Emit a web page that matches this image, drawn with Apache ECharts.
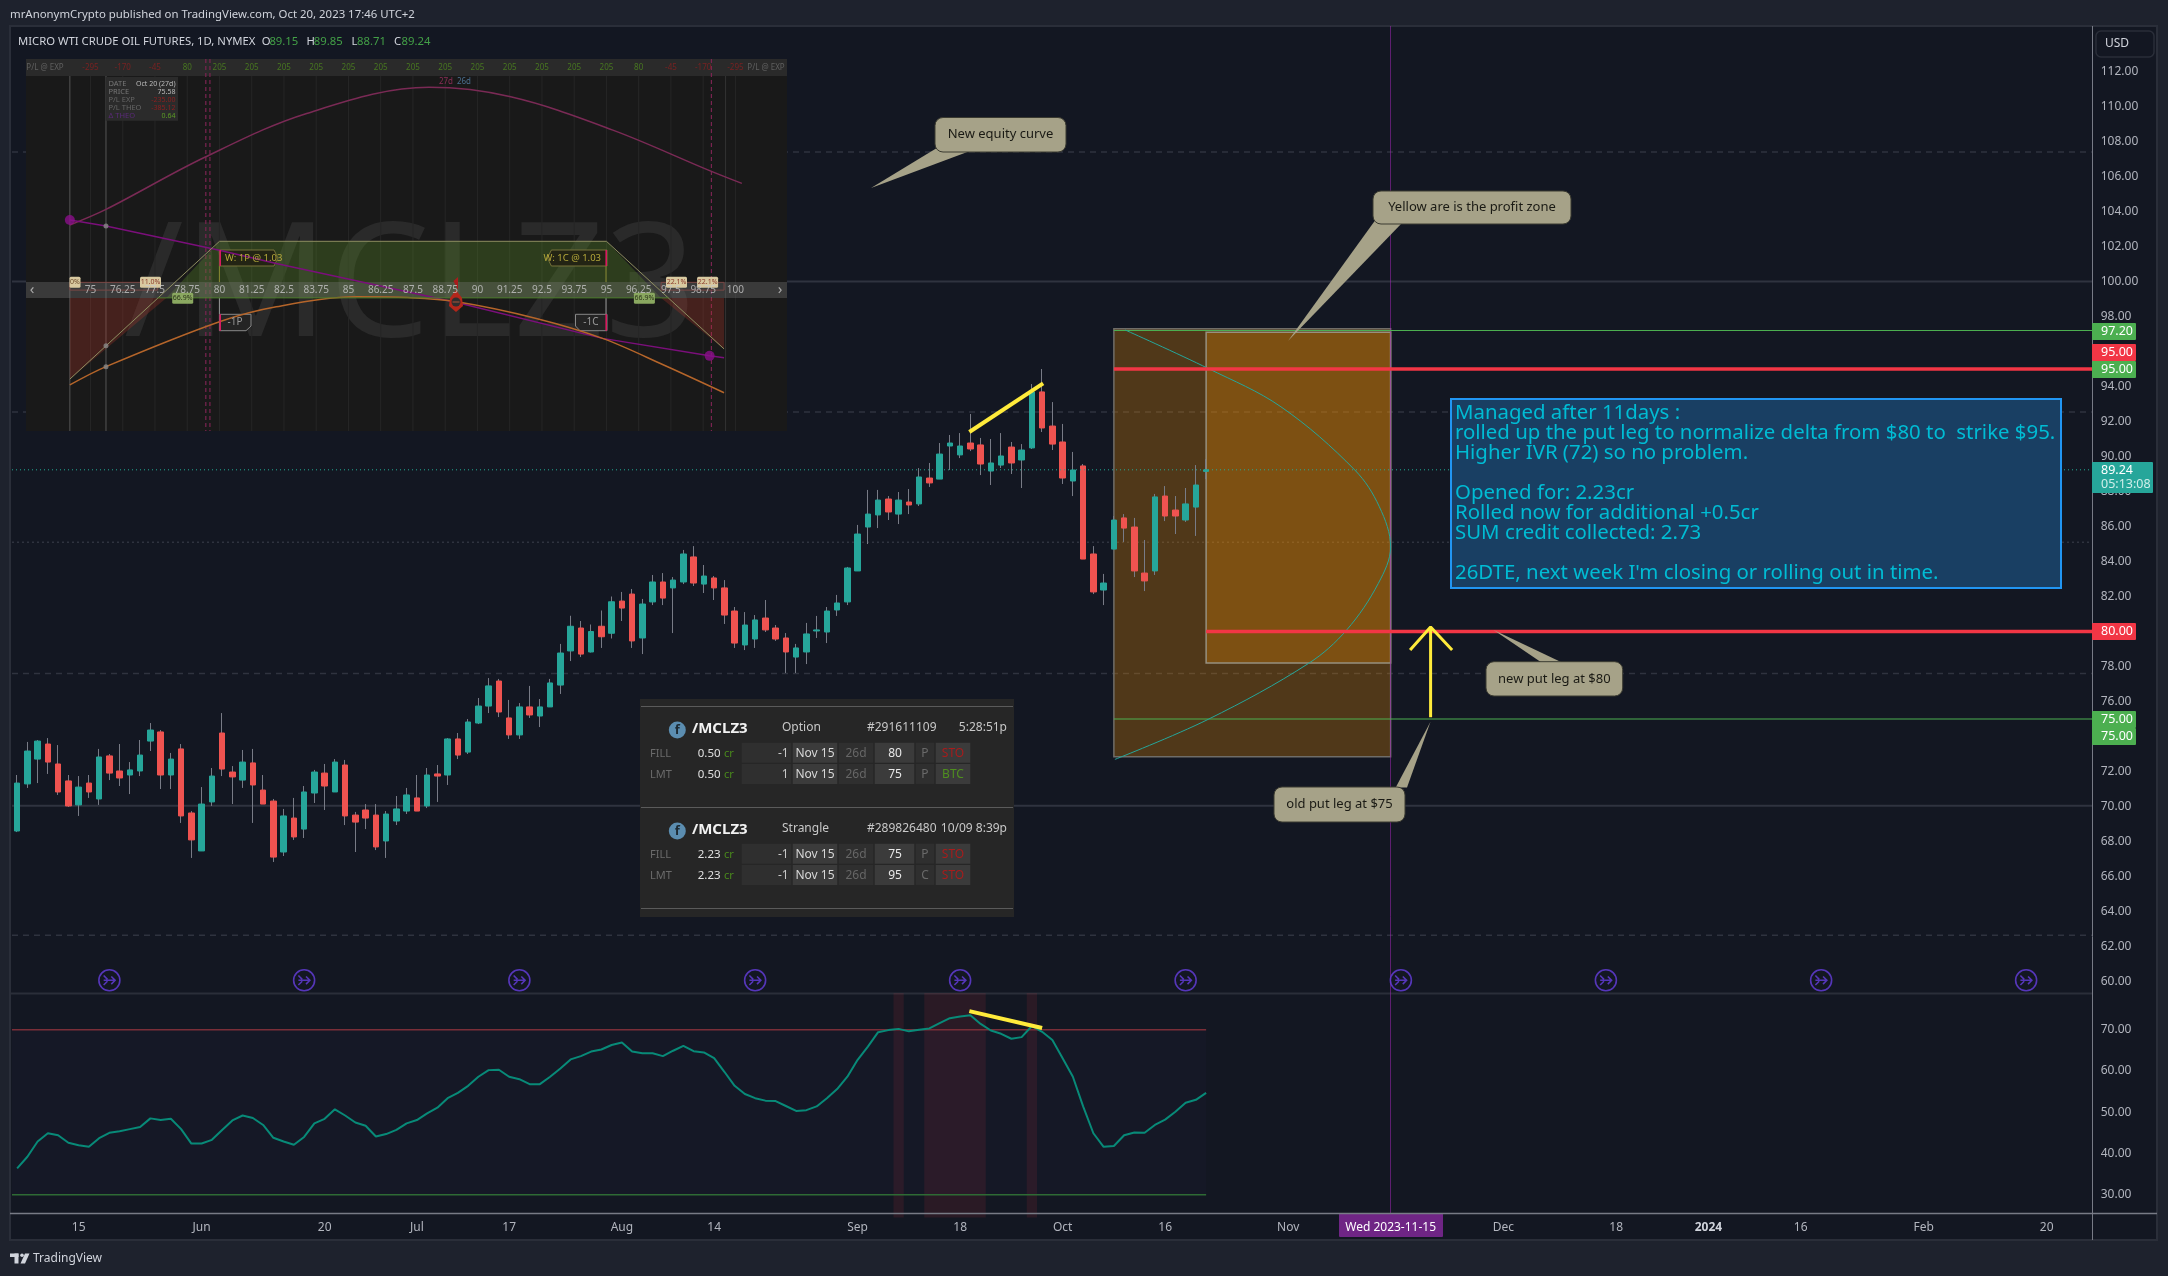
<!DOCTYPE html>
<html><head><meta charset="utf-8">
<style>html,body{margin:0;padding:0;background:#1e222d}#c{width:2168px;height:1276px}</style>
<script src="https://cdn.jsdelivr.net/npm/echarts@6/dist/echarts.min.js"></script>
</head><body><div id="c"></div>
<script>
// ---------- candles ----------
const opens=[68.60,71.29,72.71,73.57,72.43,71.46,70.09,71.34,70.43,72.89,72.03,71.80,72.03,73.74,74.26,71.80,73.29,69.63,67.46,70.26,74.20,71.97,71.51,72.49,70.94,70.31,67.40,69.34,68.71,70.77,71.91,70.83,72.37,69.51,69.80,69.51,68.03,69.17,69.74,70.49,70.03,71.86,71.80,73.86,73.11,74.77,75.74,77.17,75.06,74.09,75.69,75.17,75.69,76.94,78.89,80.20,78.83,80.30,79.90,81.74,82.14,79.63,81.69,82.83,82.49,82.83,84.26,82.71,83.06,82.49,81.17,79.23,79.57,80.77,80.20,79.63,78.54,78.83,80.03,79.97,81.23,81.69,83.46,85.97,86.66,87.57,86.71,87.40,87.29,88.77,88.71,90.60,90.09,90.77,90.66,89.17,89.51,90.54,89.80,90.49,93.69,91.74,90.83,88.60,89.46,84.43,82.37,84.71,86.49,85.97,83.34,83.46,87.74,86.94,86.37,87.11,89.15];
const highs=[71.80,73.69,73.80,73.91,73.51,71.80,71.74,71.80,73.29,73.00,73.57,72.54,73.80,74.77,74.37,73.06,73.57,69.74,71.11,72.20,75.34,72.31,73.23,73.29,71.80,70.43,69.86,70.49,71.17,72.09,72.43,72.71,72.66,69.69,70.14,70.14,69.74,70.60,71.06,71.80,72.20,72.37,73.91,74.20,75.00,76.20,77.34,77.29,76.09,75.91,76.89,76.14,77.29,79.29,80.90,80.60,80.40,81.20,82.00,82.26,82.43,81.86,83.23,83.34,83.11,84.66,84.88,83.80,83.17,82.94,81.40,81.11,80.94,81.80,80.37,79.91,79.29,80.49,80.89,81.40,82.09,83.69,86.09,88.09,88.09,87.74,87.97,88.14,89.34,89.63,90.77,91.23,91.34,92.43,91.06,91.00,91.34,90.83,90.71,94.14,95.00,93.11,91.86,90.26,89.57,84.88,83.29,86.60,86.71,86.49,85.23,87.86,88.31,87.74,88.20,89.51,89.85];
const lows=[68.54,71.06,71.34,71.86,70.66,69.97,69.46,70.49,70.09,71.51,71.17,70.71,71.74,73.17,71.00,71.00,69.06,67.06,67.46,70.03,71.74,70.14,71.06,69.06,70.14,66.83,67.17,68.09,68.20,70.20,69.80,70.83,68.94,67.40,68.71,67.51,67.06,68.94,69.57,69.74,69.91,70.26,71.23,72.71,73.00,74.71,75.34,75.11,73.86,73.86,75.06,74.54,75.69,76.43,78.31,78.54,78.80,79.06,79.60,80.60,79.06,78.71,81.51,81.51,79.91,82.71,82.60,82.20,81.80,80.43,79.06,78.94,79.06,79.97,79.46,77.63,77.63,78.14,79.63,79.34,80.89,81.51,83.46,85.00,85.91,86.37,86.14,86.71,87.17,88.26,88.71,89.23,89.91,90.31,88.94,88.37,89.34,89.00,88.20,90.43,91.40,90.37,88.43,87.74,84.14,82.14,81.51,84.71,85.11,83.11,82.31,83.23,86.31,85.57,86.26,85.46,88.71];
const closes=[71.34,73.17,73.74,72.54,70.83,70.03,71.11,70.83,72.83,71.91,71.63,72.09,72.94,74.37,71.80,72.71,69.46,68.09,70.14,71.74,72.14,71.69,72.54,71.23,70.14,67.11,69.46,68.26,70.83,71.97,71.17,72.54,69.46,69.11,69.34,67.69,69.57,69.86,70.66,69.74,71.80,71.74,73.86,72.94,74.83,75.74,76.89,75.40,74.09,75.69,75.23,75.69,77.06,78.77,80.30,78.71,80.00,79.70,81.70,81.34,79.46,81.57,82.83,81.91,82.94,84.43,82.77,83.17,82.49,80.94,79.34,80.37,80.66,80.09,79.57,78.83,79.06,79.86,80.09,81.17,81.63,83.63,85.57,86.71,87.51,86.83,87.51,87.23,88.83,88.49,90.14,90.77,90.60,90.43,89.57,89.63,90.03,89.63,90.37,93.69,91.63,90.71,88.77,89.23,84.14,82.26,82.77,86.37,85.91,83.46,82.89,87.69,86.60,86.60,87.29,88.37,89.24];
// ---------- RSI ----------
const rsiValues=[36.4,39.2,42.9,44.9,44.4,42.6,42.0,41.6,43.7,45.0,45.4,45.9,46.4,48.5,48.1,48.4,45.9,42.4,42.4,43.3,45.7,48.0,49.2,48.6,46.9,43.8,42.9,42.1,44.0,47.3,48.4,50.7,49.2,47.5,46.7,44.1,44.7,45.7,47.3,48.1,49.7,51.1,53.4,54.7,56.4,58.6,60.2,60.3,58.6,58.0,56.8,56.8,58.6,60.6,62.8,63.6,64.7,65.2,66.3,66.9,64.7,64.3,64.3,63.6,64.9,66.1,64.8,64.5,63.1,59.8,56.4,54.4,53.4,52.8,52.7,51.5,50.3,50.5,51.4,53.4,55.6,58.6,62.7,65.9,69.4,69.9,70.2,69.6,70.0,70.3,71.6,72.8,73.2,73.5,71.4,69.8,69.0,67.8,68.2,70.9,69.5,67.5,63.1,58.6,51.4,44.9,41.6,41.8,44.4,45.1,45.0,46.9,48.2,50.1,52.3,53.0,54.7];
const rsiLevels=[70,30];
const rsiBands=[[85.5,86.5],[88.5,94.5],[98.5,99.5]];
const rsiTrend=[[92.9,74.5],[100.0,70.4]];
// ---------- time axis ----------
const slotCount=203;
const tickIndex=[6,18,30,39,48,59,68,82,92,102,112,124,134,145,156,165,174,186,198];
const tickText=['15','Jun','20','Jul','17','Aug','14','Sep','18','Oct','16','Nov','Wed 2023-11-15','Dec','18','2024','16','Feb','20'];
// ---------- price overlays ----------
const gridLevels=[107.4,100,92.55,85.1,77.6,70.05,62.65];
const lastPrice=89.24;
const shortStrikes=[[107,95],[116,80]];
const greenLevels=[[107,97.2],[107,75]];
const outerBox=[107,97.3,134,72.85];
const innerBox=[116,97.1,134,78.2];
const arcPoints=[[107.1,72.69],[116.2,74.98],[126,78.18],[129.7,80.08],[132.8,82.75],[134,84.84],[132.9,87.13],[130.5,89.23],[123.3,92.84],[116.2,95.03],[108.1,97.23]];
const priceTrend=[[92.9,91.4],[100.1,94.18]];
const arrowShaft=[[137.9,75.1],[137.9,80.26]];
const arrowHead=[[135.9,78.94],[137.9,80.26],[140,78.94]];
const eventBars=[9,28,49,72,92,114,135,155,176,196];
const eventPrice=60.07;
// ---------- inset P/L screenshot ----------
const strikes=['75','76.25','77.5','78.75','80','81.25','82.5','83.75','85','86.25','87.5','88.75','90','91.25','92.5','93.75','95','96.25','97.5','98.75','100'];
const pnlHeader=['-295','-170','-45','80','205','205','205','205','205','205','205','205','205','205','205','205','205','80','-45','-170','-295'];
const pnlExpiry=[[74.2,-293],[80,204],[95,204],[99.56,-184]];
const pnlProfit=[[77.94,0],[80,204],[95,204],[97.12,0]];
const pnlLossL=[[74.2,-293],[74.2,0],[77.94,0]];
const pnlLossR=[[97.12,0],[99.56,-184],[99.56,0]];
const equity=[[74.2,263],[75.6,319],[79.43,507],[83.38,665],[88.13,759],[91.29,725],[95.25,605],[99,459],[100.25,413]];
const thetaLine=[[74.2,281],[75.6,259],[80,172],[82.2,124],[89.2,-17],[94.85,-146],[99,-209],[99.56,-216]];
const theoLine=[[74.2,-314],[75.6,-248],[80,-86],[82.2,-32],[85.36,4],[87.3,1],[89.2,-14],[92.28,-74],[94.85,-146],[97.22,-242],[99.56,-342]];
// ---------- order tables ----------
const orders=[
 {kind:'Option',id:'#291611109',time:'5:28:51p',price:'0.50',legs:[['-1','Nov 15','26d','80','P','STO'],['1','Nov 15','26d','75','P','BTC']]},
 {kind:'Strangle',id:'#289826480',time:'10/09 8:39p',price:'2.23',legs:[['-1','Nov 15','26d','75','P','STO'],['-1','Nov 15','26d','95','C','STO']]}
];
const noteLines=['Managed after 11days :','rolled up the put leg to normalize delta from $80 to  strike $95.','Higher IVR (72) so no problem.','','Opened for: 2.23cr','Rolled now for additional +0.5cr','SUM credit collected: 2.73','','26DTE, next week I\'m closing or rolling out in time.'];

// ---------- helpers ----------
const FONT='"Noto Sans", sans-serif';
const G=[];
const rect=(x,y,w,h,fill,z,extra={})=>G.push({type:'rect',silent:true,z,shape:{x,y,width:w,height:h,r:extra.r||0},style:{fill,stroke:extra.stroke||null,lineWidth:extra.lw||0}});
const text=(x,y,t,size,fill,z,extra={})=>G.push({type:'text',silent:true,z,x,y,style:{text:t,font:(extra.weight||'normal')+' '+size+'px '+(extra.font||FONT),fill,textAlign:extra.align||'left',textVerticalAlign:'middle'}});
const poly=(pts,fill,z,stroke,lw)=>G.push({type:'polygon',silent:true,z,shape:{points:pts},style:{fill,stroke:stroke||null,lineWidth:lw||0}});
const line=(x1,y1,x2,y2,stroke,lw,z,dash)=>G.push({type:'line',silent:true,z,shape:{x1,y1,x2,y2},style:{stroke,lineWidth:lw,lineDash:dash||null}});
const circ=(cx,cy,r,fill,z,stroke,lw)=>G.push({type:'circle',silent:true,z,shape:{cx,cy,r},style:{fill,stroke:stroke||null,lineWidth:lw||0}});

// page chrome
rect(10,26,2147,1214,'#131722',-5,{stroke:'#2a2e39',lw:2});
line(10,993.5,2092,993.5,'#2a2e39',2,-4);
line(10,1213.5,2157,1213.5,'#787b86',1.5,6);
line(2092.5,26,2092.5,1240,'#787b86',1,6);
rect(1339,1213.5,104,23.5,'#6f2585',-1,{r:1});
text(10,15,'mrAnonymCrypto published on TradingView.com, Oct 20, 2023 17:46 UTC+2',11.4,'#d1d4dc',10);
text(18,42,'MICRO WTI CRUDE OIL FUTURES, 1D, NYMEX',11.3,'#d1d4dc',10);
[['O','89.15',261.7,269.4],['H','89.85',306.6,313.8],['L','88.71',351.5,357],['C','89.24',393.9,401.5]].forEach(([a,b,x1,x2])=>{
  text(x1,42,a,11.3,'#d1d4dc',10); text(x2,42,b,11.3,'#43a047',10);
});
// USD
rect(2096,31,58,26,'#131722',7,{stroke:'#2a2e39',lw:1.5,r:5});
text(2105,44,'USD',12,'#d1d4dc',8);
// price tags
const tag=(y,t,col)=>{rect(2092,y-8.5,44,17,col,20,{r:1});text(2101,y,t,12.5,'#fff',21);};
tag(331.5,'97.20','#4caf50');tag(352.5,'95.00','#f23645');tag(369.5,'95.00','#4caf50');tag(631.5,'80.00','#f23645');tag(719.5,'75.00','#4caf50');tag(736.5,'75.00','#4caf50');
rect(2092,462,61,31,'#26a69a',20,{r:1});text(2101,470.5,'89.24',12.5,'#fff',21);text(2101,484,'05:13:08',12.5,'#cfeee9',21);
// footer logo
rect(10,1253.5,8.5,3.5,'#d1d4dc',10);rect(14.5,1253.5,4,10,'#d1d4dc',10);circ(22,1255.3,1.8,'#d1d4dc',10);poly([[25,1253.5],[29.5,1253.5],[25,1263.5],[20.5,1263.5]],'#d1d4dc',10);
text(33,1259,'TradingView',12,'#d1d4dc',10);

// callouts
const balloon=(x0,y0,x1,y1,tail,t)=>{poly(tail,'#a6a288',15);rect(x0,y0,x1-x0,y1-y0,'#a6a288',15,{r:8,stroke:'#3a3a30',lw:1});text((x0+x1)/2,(y0+y1)/2,t,13,'#1a1a14',16,{align:'center'});};
balloon(935,117.5,1066,152,[[950,140],[871,188],[970,151]],'New equity curve');
balloon(1373,191,1571,224,[[1379,215],[1288,341],[1402,223]],'Yellow are is the profit zone');
balloon(1486,661.7,1622.7,696,[[1541.5,662.5],[1493.6,630],[1562,662.5]],'new put leg at $80');
balloon(1274,787,1405,822,[[1395.7,787.5],[1430.5,721.7],[1407,787.5]],'old put leg at $75');
// note box
rect(1451,399,610,189,'#193f63',14,{stroke:'#2196f3',lw:2});
noteLines.forEach((t,i)=>text(1455,413.5+i*20,t,20.4,'#00bcd4',15));

// inset panel chrome
const IL=26,IT=59,IR=787,IB=431;
rect(IL,IT,IR-IL,IB-IT,'#191919',2);
text(124,290,'/MCLZ3',160,'#2a2a2a',2.5);
rect(IL,IT,IR-IL,17,'#2a2a2a',2.6);
rect(IL,282,IR-IL,16,'rgba(120,120,120,0.35)',4.2);
text(45,67.7,'P/L @ EXP',8,'#5f5f5f',5,{align:'center'});text(766,67.7,'P/L @ EXP',8,'#5f5f5f',5,{align:'center'});
text(32,290,'‹',15,'#aaa',5,{align:'center'});text(780,290,'›',15,'#aaa',5,{align:'center'});
text(446,81.7,'27d',8,'#8b2d55',5,{align:'center'});text(464,81.7,'26d',8,'#4a6f8f',5,{align:'center'});
// inset tooltip
rect(105.6,77,72.4,43.7,'#2b2b2b',5);
[['DATE','Oct 20 (27d)','#bbb','#777'],['PRICE','75.58','#bbb','#777'],['P/L EXP','-235.00','#8f1f1f','#666'],['P/L THEO','-385.12','#8f1f1f','#666'],['Δ THEO','0.64','#5a9a25','#5b2a7a']].forEach((r,i)=>{
  text(108.5,83.6+i*8.05,r[0],7.5,r[3],5.5);text(175.5,83.6+i*8.05,r[1],7,r[2],5.5,{align:'right'});});
// inset tags
const hexL=(x0,x1,y0,y1)=>[[x0,y0],[x1-4,y0],[x1,(y0+y1)/2],[x1-4,y1],[x0,y1]];
const hexR=(x0,x1,y0,y1)=>[[x0+4,y0],[x1,y0],[x1,y1],[x0+4,y1],[x0,(y0+y1)/2]];
line(219.4,266,219.4,282,'#8a8a33',1,5);line(606,266,606,282,'#8a8a33',1,5);
line(219.4,298,219.4,314,'#999',1,5);line(606,298,606,314,'#999',1,5);
poly(hexL(219.4,278,250,266),'#232414',5,'#77733a',1);rect(219.4,250,1.6,16,'#d81b60',5.1);text(225,258,'W: 1P @ 1.03',9.5,'#b5a83a',5.2);
poly(hexR(547.4,607,250,266),'#232414',5,'#77733a',1);rect(605.4,250,1.6,16,'#d81b60',5.1);text(601,258,'W: 1C @ 1.03',9.5,'#b5a83a',5.2,{align:'right'});
poly([[219.4,314.3],[251,314.3],[251,326],[246,330.7],[219.4,330.7]],'#242424',5,'#888',1);rect(219.4,314.3,1.6,16.4,'#d81b60',5.1);text(235,322.5,'-1P',10,'#999',5.2,{align:'center'});
poly([[575.5,314.3],[607,314.3],[607,330.7],[580,330.7],[575.5,326]],'#242424',5,'#888',1);rect(605.4,314.3,1.6,16.4,'#d81b60',5.1);text(591,322.5,'-1C',10,'#999',5.2,{align:'center'});
const pct=(cx,cy,t,bg,fg,w)=>{rect(cx-w/2,cy-5.5,w,11,bg,5.4,{r:1.5});text(cx,cy,t,7,fg,5.5,{align:'center'});};
pct(182.7,298.3,'66.9%','#8aa860','#2a3318',21);pct(644.4,298.3,'66.9%','#8aa860','#2a3318',21);
pct(75,282.3,'0%','#d8c9a0','#6a4a2a',11);pct(150.5,282.3,'11.0%','#d8c9a0','#8a3a2a',21);pct(676.5,282.3,'22.1%','#d8c9a0','#8a3a2a',21);pct(707.6,282.3,'22.1%','#d8c9a0','#8a3a2a',21);
poly([[456,290],[450,298],[449,306],[456,312],[463,306],[462,298]],'#b3261a',6);circ(456,302,4.5,'#2e2e2e',6.1);line(452.5,302,459.5,302,'#a8553a',1,6.2);
poly([[458,277],[458,290],[453.5,281]],'#a81c1c',6);

// order table panel
rect(640,699,374,218,'#262626',12);
[706.5,807.5,908.5].forEach(y=>line(641,y,1013,y,'#5a5a5a',1,13));
orders.forEach((o,k)=>{
  const dy=k*101;
  circ(677.3,730+dy,8.5,'#5b8db0',13);text(677.3,730+dy,'f',13,'#1d2a33',14,{align:'center',weight:'bold'});
  text(692,728.5+dy,'/MCLZ3',15,'#f2f2f2',13,{weight:'bold'});
  text(782,728+dy,o.kind,12,'#c8c8c8',13);
  text(867,728+dy,o.id,12,'#c8c8c8',13);
  text(1007,728+dy,o.time,12,'#c8c8c8',13,{align:'right'});
  ['FILL','LMT'].forEach((lab,r)=>{
    const cy=753.8+dy+r*20.7, top=742.7+dy+r*21.2;
    text(650,cy,lab,11,'#6a6a6a',13);
    text(720.6,cy,o.price,11.5,'#e0e0e0',13,{align:'right'});
    text(724,cy,'cr',11,'#4a8a1c',13);
    const leg=o.legs[r];
    [[741.7,49.6,'#2f2f2f'],[792.7,44.6,'#3b3b3b'],[838.7,34.6,'#2f2f2f'],[874.7,39.6,'#3b3b3b'],[915.7,18.6,'#2f2f2f'],[935.7,34.6,'#3b3b3b']].forEach(c=>rect(c[0],top,c[1],20,c[2],12.5));
    text(788.7,cy,leg[0],12,'#c8c8c8',13,{align:'right'});
    text(815,cy,leg[1],12,'#d8d8d8',13,{align:'center'});
    text(856,cy,leg[2],12,'#666',13,{align:'center'});
    text(895,cy,leg[3],12,'#e8e8e8',13,{align:'center'});
    text(925,cy,leg[4],12,'#6a6a6a',13,{align:'center'});
    text(953,cy,leg[5],12,leg[5]==='BTC'?'#4f8f1f':'#a81c1c',13,{align:'center'});
  });
});

// crosshair
line(1390.5,26,1390.5,1213,'rgba(156,39,176,0.55)',1,3);

// ---------- series ----------
const S=[];
const lineS=(xi,yi,pts,color,width,z,extra={})=>S.push(Object.assign({type:'line',xAxisIndex:xi,yAxisIndex:yi,data:pts,showSymbol:false,silent:true,z,lineStyle:{color,width,type:extra.dash||'solid'},smooth:extra.smooth||false},extra.more||{}));
const shape=(xi,yi,z,polys)=>S.push({type:'custom',xAxisIndex:xi,yAxisIndex:yi,z,silent:true,data:[[0,0]],clip:false,
  renderItem:(p,api)=>({type:'group',children:polys.map(q=>({type:q.open?'polyline':'polygon',shape:{points:q.pts.map(c=>api.coord(c))},style:{fill:q.open?null:q.fill,stroke:q.stroke||null,lineWidth:q.lw||0}}))})});
const boxPts=b=>[[b[0],b[1]],[b[2],b[1]],[b[2],b[3]],[b[0],b[3]]];

const LASTX=202.5;
// grid levels in the price pane
gridLevels.forEach(v=>{
  const solid=(v===100||v===70.05);
  lineS(1,0,[[-0.5,v],[LASTX,v]],'#2f333f',solid?2:1.5,1,{dash:solid?'solid':(v===85.1?[2,3]:[6,5])});
});
// boxes
shape(1,0,1.5,[{pts:boxPts(outerBox),fill:'rgba(255,152,0,0.26)',stroke:'#6f6d68',lw:1.5}]);
shape(1,0,1.6,[{pts:boxPts(innerBox),fill:'rgba(255,152,0,0.26)',stroke:'#97907f',lw:1.5}]);
// candles: wick layer then body layer
S.push({type:'candlestick',xAxisIndex:0,yAxisIndex:0,z:2,silent:true,barWidth:1,
  itemStyle:{color:'#787b86',color0:'#787b86',borderColor:'#787b86',borderColor0:'#787b86',borderWidth:1},
  data:opens.map((o,i)=>{const m=(o+closes[i])/2;return [m,m,lows[i],highs[i]];})});
S.push({type:'candlestick',xAxisIndex:0,yAxisIndex:0,z:2.1,silent:true,barWidth:6,
  itemStyle:{color:'#26a69a',color0:'#ef5350',borderColor:'#26a69a',borderColor0:'#ef5350',borderWidth:1},
  data:opens.map((o,i)=>[o,closes[i],Math.min(o,closes[i]),Math.max(o,closes[i])])});
// last price
lineS(1,0,[[-0.5,lastPrice],[LASTX,lastPrice]],'#22ab94',1,3,{dash:[1,3]});
// green and red strike lines
greenLevels.forEach(g=>lineS(1,0,[[g[0],g[1]],[LASTX,g[1]]],'#4caf50',1.2,3));
shortStrikes.forEach(g=>lineS(1,0,[[g[0],g[1]],[LASTX,g[1]]],'#f23645',3.5,4));
lineS(1,0,arcPoints,'#26a69a',1,3.5,{smooth:0.35});
lineS(1,0,priceTrend,'#ffeb3b',4,4);
lineS(1,0,arrowShaft,'#ffeb3b',3,4);
lineS(1,0,arrowHead,'#ffeb3b',3,4);
// event markers
S.push({type:'scatter',xAxisIndex:1,yAxisIndex:0,z:5,silent:true,symbolSize:21,
  symbol:'path://M12 1A11 11 0 1 0 12 23A11 11 0 1 0 12 1ZM6 12L18 12M14 8L18 12L14 16M6 7L10 11M6 17L10 13',
  itemStyle:{color:'none',borderColor:'#673fe0',borderWidth:1.6},
  data:eventBars.map(i=>[i,eventPrice])});

// RSI pane
shape(3,1,1,[{pts:[[-0.5,70],[116,70],[116,30],[-0.5,30]],fill:'rgba(126,87,194,0.025)'}]);
shape(3,1,1.2,rsiBands.map(b=>({pts:[[b[0],24.5],[b[1],24.5],[b[1],78.9],[b[0],78.9]],fill:'rgba(242,54,69,0.10)'})));
lineS(3,1,[[-0.5,rsiLevels[0]],[116,rsiLevels[0]]],'#7a2e38',1.5,2);
lineS(3,1,[[-0.5,rsiLevels[1]],[116,rsiLevels[1]]],'#2e6a34',1.5,2);
S.push({type:'line',xAxisIndex:2,yAxisIndex:1,z:3,silent:true,showSymbol:false,data:rsiValues,lineStyle:{color:'#088a78',width:2}});
lineS(3,1,rsiTrend,'#ffeb3b',4,4);

// inset
const INX=5,INY=3;
shape(INX,INY,2.8,[
  {pts:pnlProfit,fill:'rgba(90,140,40,0.32)'},
  {pts:pnlLossL,fill:'rgba(190,55,40,0.27)'},
  {pts:pnlLossR,fill:'rgba(190,55,40,0.27)'},
  {pts:[[74.2,56],[77.6,56],[77.6,28],[74.2,28]],fill:'rgba(0,0,0,0)',stroke:'#7a2e2a',lw:1},
  {pts:[[97.12,56],[99.56,56],[99.56,28],[97.12,28]],fill:'rgba(0,0,0,0)',stroke:'#7a2e2a',lw:1}
]);
// strike gridlines + labels from strikes list
S.push({type:'custom',xAxisIndex:INX,yAxisIndex:INY,z:2.7,silent:true,clip:false,
  data:strikes.map((s,i)=>[parseFloat(s),i]),
  renderItem:(p,api)=>{const x=api.value(0),a=api.coord([x,861.3]),b=api.coord([x,-480]);
    return {type:'line',shape:{x1:a[0],y1:a[1]+17,x2:b[0],y2:b[1]},style:{stroke:'#262626',lineWidth:1}};}});
S.push({type:'scatter',xAxisIndex:INX,yAxisIndex:INY,z:6,silent:true,symbolSize:0,clip:false,
  data:strikes.map(s=>[parseFloat(s),-3]),
  label:{show:true,position:'inside',offset:[0,-9],fontSize:10,fontFamily:FONT,color:'#c8c8c8',formatter:p=>strikes[p.dataIndex]}});
S.push({type:'scatter',xAxisIndex:INX,yAxisIndex:INY,z:6,silent:true,symbolSize:0,clip:false,
  data:strikes.map((s,i)=>({value:[parseFloat(s),830],label:{color:parseFloat(pnlHeader[i])<0?'#8f1f1f':'#4f8a1e'}})),
  label:{show:true,position:'inside',fontSize:8,fontFamily:FONT,formatter:p=>pnlHeader[p.dataIndex]}});
[[74.2,'#555'],[75.6,'#555'],[99.62,'#333']].forEach(v=>lineS(INX,INY,[[v[0],800],[v[0],-480]],v[1],1,2.75));
[[79.47,1],[79.63,1],[99.07,1]].forEach(v=>lineS(INX,INY,[[v[0],861],[v[0],-480]],'#7a2450',1.2,2.75,{dash:[4,3]}));
lineS(INX,INY,equity,'#7a2a55',1.5,5,{smooth:0.35});
lineS(INX,INY,thetaLine,'#7b0f7b',1.5,5);
lineS(INX,INY,theoLine,'#b5652a',1.5,5,{smooth:0.35});
lineS(INX,INY,pnlExpiry,'#8d8d60',1,5);
lineS(INX,INY,[[77.6,0],[97.4,0]],'#4a7a2a',1,5);
S.push({type:'scatter',xAxisIndex:INX,yAxisIndex:INY,z:6,silent:true,symbolSize:10,itemStyle:{color:'#8a0f8a'},data:[thetaLine[0],thetaLine[6]]});
S.push({type:'scatter',xAxisIndex:INX,yAxisIndex:INY,z:6,silent:true,symbolSize:5,itemStyle:{color:'#888'},data:[[75.6,-173],[75.6,-248],[75.6,259]]});

const cats=Array.from({length:slotCount},(_,i)=>String(i));
const tickMap=new Map(tickIndex.map((i,k)=>[i,tickText[k]]));
const hiddenVal=(grid,min,max)=>({type:'value',gridIndex:grid,min,max,show:false,splitLine:{show:false}});
const hiddenCat=(grid)=>({type:'category',gridIndex:grid,data:cats,show:false,boundaryGap:true});
const W=slotCount*10.25;
const option={
  animation:false,backgroundColor:'#1e222d',
  grid:[
    {left:12,width:W,top:36.5,height:945},
    {left:12,width:W,top:988.45,height:247.5},
    {left:12,width:W,top:1213,height:1},
    {left:IL,width:IR-IL,top:IT,height:IB-IT}
  ],
  xAxis:[
    hiddenCat(0),hiddenVal(0,-0.5,202.5),hiddenCat(1),hiddenVal(1,-0.5,202.5),
    {type:'category',gridIndex:2,data:cats,boundaryGap:true,axisLine:{show:false},axisTick:{show:false},
     axisLabel:{interval:i=>tickMap.has(i),margin:8,fontSize:12,fontFamily:FONT,color:'#b2b5be',hideOverlap:false,
       formatter:(v,i)=>{const t=tickMap.get(i)||'';return t==='2024'?'{b|2024}':(t.startsWith('Wed')?'{hl|'+t+'}':t);},
       rich:{b:{fontWeight:'bold',fontSize:12,fontFamily:FONT,color:'#d1d4dc'},hl:{color:'#fff',fontSize:12,fontFamily:FONT}}}},
    hiddenVal(3,72.5,102)
  ],
  yAxis:[
    {type:'value',gridIndex:0,position:'right',min:60,max:114,interval:2,axisLine:{show:false},axisTick:{show:false},splitLine:{show:false},
     axisLabel:{margin:8,fontSize:12,fontFamily:FONT,color:'#b2b5be',padding:[2,0,0,0],formatter:v=>v>=114?'':v.toFixed(2)}},
    {type:'value',gridIndex:1,position:'right',min:20,max:80,interval:10,axisLine:{show:false},axisTick:{show:false},splitLine:{show:false},
     axisLabel:{margin:8,fontSize:12,fontFamily:FONT,color:'#b2b5be',formatter:v=>(v<30||v>70)?'':v.toFixed(2)}},
    {type:'value',gridIndex:2,show:false,min:0,max:1},
    {type:'value',gridIndex:3,show:false,min:-480,max:861.3,splitLine:{show:false}}
  ],
  series:S,
  graphic:{elements:G}
};
const chart=echarts.init(document.getElementById('c'),null,{renderer:'canvas',width:2168,height:1276});
chart.setOption(option);
</script></body></html>
